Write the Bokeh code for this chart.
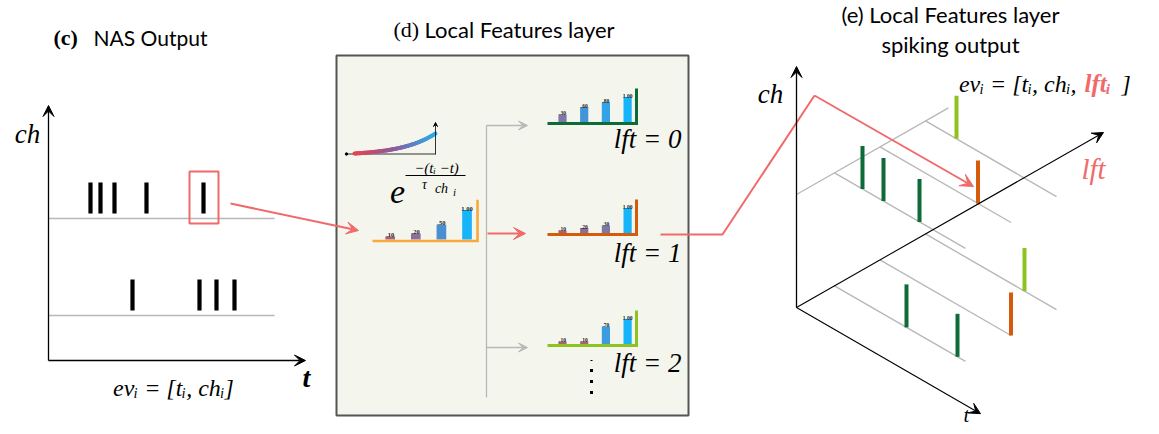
import numpy as np
from bokeh.plotting import figure
from bokeh.models import Range1d, Arrow, VeeHead
from bokeh.core.properties import value
from bokeh.embed import file_html
from bokeh.resources import INLINE

# ------------------------------------------------------------------ data
# Panel (c): NAS output spike times (t units along the time axis) per channel
nas_times_ch_top = [42, 52, 66, 98, 155]
nas_times_ch_bottom = [84, 151, 168, 186]
selected_spike = 4  # index in the top channel that is highlighted

# Panel (d): time-surface histograms
input_values = [0.10, 0.20, 0.50, 1.00]
input_labels = [".10", ".20", ".50", "1.00"]
lft0_values = [0.30, 0.60, 0.80, 1.00]
lft0_labels = [".30", ".60", ".80", "1.00"]
lft1_values = [0.10, 0.20, 0.30, 1.00]
lft1_labels = [".10", ".20", ".30", "1.00"]
lft2_values = [0.10, 0.10, 0.70, 1.00]
lft2_labels = [".10", ".10", ".70", "1.00"]

# Panel (e): output events (t, ch level, lft index)
out_t = [28, 49, 85, 98, 31, 72, 123, 131, 99]
out_ch = [1, 1, 1, 1, 1, 0, 0, 0, 0]
out_lft = [0, 0, 0, 1, 2, 0, 0, 1, 2]

# ------------------------------------------------------------------ styles
LFT_COLORS = ["#0c6b37", "#d65a0c", "#8dc21f"]
INPUT_COLOR = "#f7a93b"
RED = "#f06a6a"
GRAY = "#b8b8b8"
SERIF = value("Liberation Serif")
SANS = value("Lato")

W, H = 1151, 426
p = figure(width=W, height=H, x_range=Range1d(0, W), y_range=Range1d(H, 0),
           output_backend="svg", toolbar_location=None, min_border=0,
           x_axis_type=None, y_axis_type=None)
p.grid.visible = False
p.outline_line_color = None
p.background_fill_color = "white"
p.border_fill_color = "white"


def arrow(x0, y0, x1, y1, color="black", lw=1.3, size=11):
    head = VeeHead(size=size, fill_color=color, line_color=color, line_width=1)
    p.add_layout(Arrow(end=head, x_start=x0, y_start=y0, x_end=x1, y_end=y1,
                       line_color=color, line_width=lw))


def txt(x, y, s, size, font=SERIF, style="normal", color="black", align="center",
        baseline="middle"):
    p.text(x=[x], y=[y], text=[s], text_font=font, text_font_size=value(f"{size}px"),
           text_font_style=style, text_color=color, text_align=align,
           text_baseline=baseline)


def hexmix(c1, c2, f):
    a = np.array([int(c1[i:i + 2], 16) for i in (1, 3, 5)])
    b = np.array([int(c2[i:i + 2], 16) for i in (1, 3, 5)])
    c = np.round(a + (b - a) * f).astype(int)
    return "#%02x%02x%02x" % tuple(c)


BAR_STOPS = [(0.1, "#a6617f"), (0.2, "#8b6f9d"), (0.3, "#7b79aa"), (0.5, "#4a8fd1"),
             (0.8, "#34a2e6"), (1.0, "#16b4f8")]


def bar_color(v):
    for (v0, c0), (v1, c1) in zip(BAR_STOPS[:-1], BAR_STOPS[1:]):
        if v <= v1:
            return hexmix(c0, c1, max(0.0, (v - v0) / (v1 - v0)))
    return BAR_STOPS[-1][1]


# ------------------------------------------------------------------ panel (c)
txt(53, 37, "(c)", 22, style="bold", align="left", baseline="alphabetic")
txt(93, 37, "NAS Output", 21, font=SANS, align="left", baseline="alphabetic")

CX0, CY0 = 48, 360
row_y = [218, 315]
arrow(CX0, CY0, CX0, 105)
arrow(CX0, CY0, 305, CY0)
p.segment(x0=[CX0, CX0], y0=row_y, x1=[274, 274], y1=row_y, line_color=GRAY, line_width=1.6)

for times, base in ((nas_times_ch_top, row_y[0]), (nas_times_ch_bottom, row_y[1])):
    xs = [CX0 + t for t in times]
    p.vbar(x=xs, bottom=base - 5, top=base - 36, width=4.2, fill_color="black",
           line_color=None)

sx = CX0 + nas_times_ch_top[selected_spike]
p.quad(left=[sx - 14], right=[sx + 15], top=[row_y[0] - 47], bottom=[row_y[0] + 5],
       fill_alpha=0, line_color=RED, line_width=2)
arrow(230, 203, 358, 230, color=RED, lw=2, size=12)

txt(27, 133, "ch", 27, style="italic")
txt(306, 377, "t", 28, style="bold italic")
txt(173, 387, "evᵢ = [tᵢ, chᵢ]", 24, style="italic")

# ------------------------------------------------------------------ panel (d)
txt(393, 29, "(d)", 22, align="left", baseline="alphabetic")
txt(424, 29, "Local Features layer", 22, font=SANS, align="left", baseline="alphabetic")
p.quad(left=[336], right=[688], top=[55], bottom=[415], fill_color="#f4f6ee",
       line_color="#555555", line_width=2)

# exponential kernel sketch
ex = np.linspace(354, 435, 60)
k = 2.4
ey = 153 - 20 * (np.exp(k * (ex - 354) / 81) - 1) / (np.exp(k) - 1)
seg_cols = [hexmix("#e8424e", "#8f5aa0", f * 2) if f < 0.5 else
            hexmix("#8f5aa0", "#2aaae6", (f - 0.5) * 2) for f in np.linspace(0, 1, len(ex) - 1)]
p.segment(x0=[346], y0=[153.5], x1=[435], y1=[153.5], line_color="black", line_width=0.8)
p.scatter(x=[346], y=[153.5], size=2.5, color="black")
arrow(435, 154, 435, 122, lw=0.8, size=4)
p.segment(x0=ex[:-1], y0=ey[:-1], x1=ex[1:], y1=ey[1:], line_color=seg_cols,
          line_width=4, line_cap="round")

txt(397, 191, "e", 34, style="italic")
txt(436, 167, "−(tᵢ −t)", 15, style="italic")
p.segment(x0=[405], y0=[175], x1=[465], y1=[175], line_color="black", line_width=1)
txt(424, 184, "τ", 14, style="italic")
txt(441, 188, "ch", 14, style="italic")
txt(454, 191, "i", 11, style="italic")


def histogram(x0, y0, vals, labels, axis_color, s):
    xs = [x0 + (15 + 21.7 * i) * s for i in range(len(vals))]
    tops = [y0 - 1.5 - 25 * s * v for v in vals]
    p.vbar(x=xs, bottom=y0 - 1.5, top=tops, width=8.2 * s,
           fill_color=[bar_color(v) for v in vals], line_color=None)
    p.text(x=xs, y=[t - 1.5 for t in tops], text=labels, text_font=SERIF,
           text_font_size=value(f"{5.5 * s:.1f}px"), text_font_style="bold",
           text_align="center", text_baseline="alphabetic", text_color="#222222")
    x1 = x0 + 89 * s
    p.line(x=[x0, x1, x1], y=[y0, y0, y0 - 35 * s], line_color=axis_color,
           line_width=3 if s <= 1 else 2.6, line_join="miter")


histogram(372, 240.5, input_values, input_labels, INPUT_COLOR, 1.18)
histogram(547, 123, lft0_values, lft0_labels, LFT_COLORS[0], 1.0)
histogram(547, 234, lft1_values, lft1_labels, LFT_COLORS[1], 1.0)
histogram(547, 345, lft2_values, lft2_labels, LFT_COLORS[2], 1.0)

# branching lines
p.segment(x0=[486], y0=[125], x1=[486], y1=[397], line_color=GRAY, line_width=1.3)
arrow(486, 125, 527, 125, color=GRAY, lw=1.3, size=9)
arrow(486, 347, 527, 347, color=GRAY, lw=1.3, size=9)
arrow(487, 233, 525, 233, color=RED, lw=2, size=12)

for i, yy in enumerate([138, 252, 362]):
    txt(681, yy, f"lft = {i}", 27, style="italic", align="right")

p.rect(x=[591, 591, 591, 591], y=[360, 370, 381, 392], width=[2, 3, 3, 3],
       height=[1, 3, 3, 3], fill_color="black", line_color=None)

# ------------------------------------------------------------------ panel (e)
txt(950, 14, "(e) Local Features layer", 22, font=SANS, baseline="alphabetic")
txt(950, 44, "spiking output", 22, font=SANS, baseline="alphabetic")

OX, OY = 796, 307
T_SLOPE = 0.577
L_SLOPE = 0.57
CH_STEP = 113
T_LEN = 131


def lft_u(k_):
    return 38 + 45.5 * k_


def pt(t, ch, lft):
    u = lft_u(lft)
    return OX + u + t, OY - L_SLOPE * u - CH_STEP * ch + T_SLOPE * t


gx0, gy0, gx1, gy1 = [], [], [], []
for ch in (0, 1):
    for lft in range(3):
        a = pt(0, ch, lft)
        b = pt(T_LEN, ch, lft)
        gx0.append(a[0]); gy0.append(a[1]); gx1.append(b[0]); gy1.append(b[1])
gx0.append(OX); gy0.append(OY - CH_STEP)
gx1.append(OX + 152); gy1.append(OY - CH_STEP - L_SLOPE * 152)
p.segment(x0=gx0, y0=gy0, x1=gx1, y1=gy1, line_color=GRAY, line_width=1.4)

arrow(OX, OY, OX, 66, lw=1.3)
arrow(OX, OY, OX + 184, OY + T_SLOPE * 184, lw=1.1)
arrow(OX, OY, OX + 307, OY - L_SLOPE * 307, lw=1.1)

p.line(x=[660, 722, 814], y=[234, 234, 95], line_color=RED, line_width=2)
arrow(814, 95, 973, 186, color=RED, lw=2, size=13)

bx, by = [], []
for t, ch, lft in zip(out_t, out_ch, out_lft):
    x, y = pt(t, ch, lft)
    bx.append(x); by.append(y)
p.vbar(x=bx, bottom=by, top=[y - 43 for y in by], width=4,
       fill_color=[LFT_COLORS[l] for l in out_lft], line_color=None)

txt(770, 93, "ch", 27, style="italic")
txt(1093, 168, "lft", 29, style="italic", color=RED)
txt(966, 414, "t", 21, style="italic")
txt(1082, 83, "evᵢ = [tᵢ, chᵢ, ", 24, style="italic", align="right")
txt(1084, 83, "lftᵢ", 25, style="bold italic", color=RED, align="left")
txt(1121, 83, "]", 24, style="italic", align="left")

open("out.html", "w").write(file_html(p, INLINE))
